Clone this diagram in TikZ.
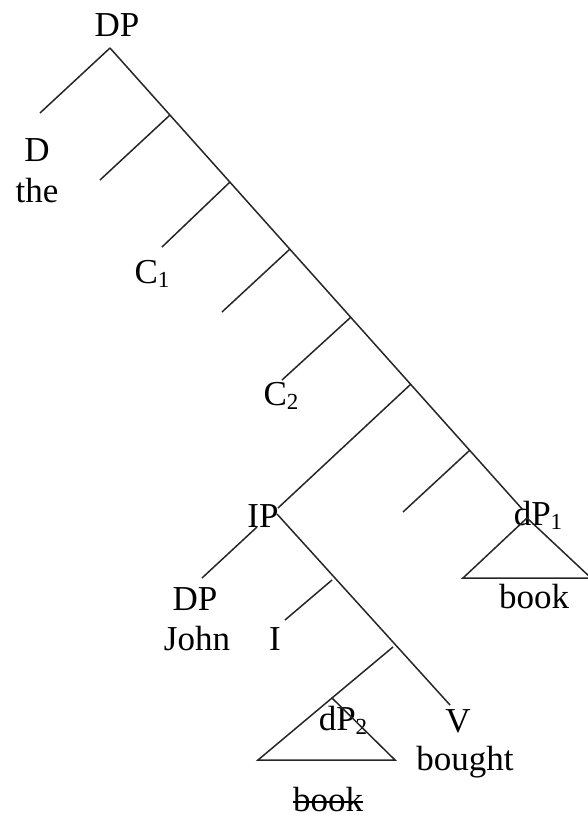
\documentclass[tikz,border=0pt]{standalone}
\usepackage{fontspec}
\setmainfont{Liberation Serif}
\newcommand{\mysub}[1]{\raisebox{-0.3ex}{\fontsize{23}{26}\selectfont #1}}
\begin{document}
\begin{tikzpicture}[x=1pt,y=-1pt,
  lbl/.style={inner sep=0pt,anchor=base,font=\fontsize{35}{40}\selectfont},
  edge/.style={line width=1.5pt,draw=black!85}]
\useasboundingbox (0,0) rectangle (587,818);
% labels
\node[lbl] (dptop) at (117,37) {DP};
\node[lbl] (d) at (37,162) {D};
\node[lbl] (the) at (37,203) {the};
\node[lbl] (c1) at (152,283) {C\mysub{1}};
\node[lbl] (c2) at (281,405) {C\mysub{2}};
\node[lbl] (ip) at (263,527) {IP};
\node[lbl] (dpj) at (195,610) {DP};
\node[lbl] (john) at (197,650) {John};
\node[lbl] (i) at (275,650) {I};
\node[lbl] (dp2) at (343,730) {dP\mysub{2}};
\node[lbl] (v) at (458,732) {V};
\node[lbl] (bought) at (465,770) {bought};
\node[lbl] (bk2) at (328,811) {book};
\node[lbl] (dp1) at (538,525) {dP\mysub{1}};
\node[lbl] (bk1) at (534,608) {book};
\draw[line width=1.5pt] ([yshift=9pt]bk2.base west) -- ([yshift=9pt]bk2.base east);
% tree points
\coordinate (r) at (110,48);
\coordinate (dl) at (40,113);
\coordinate (s1) at (170,115);
\coordinate (s2) at (230,182);
\coordinate (s3) at (290,249);
\coordinate (s4) at (351,317);
\coordinate (s5) at (411,384);
\coordinate (s6) at (470,450);
\coordinate (se) at (523,510);
\coordinate (b1) at (100,180);
\coordinate (b2) at (162,247);
\coordinate (b3) at (222,312);
\coordinate (b4) at (282,380);
\coordinate (ipt) at (278,508);
\coordinate (b6) at (403,512);
\coordinate (ipr) at (277,514);
\coordinate (ipl) at (257,527);
\coordinate (dpt) at (202,578);
\coordinate (n1) at (332,580);
\coordinate (it) at (285,620);
\coordinate (n2) at (393,647);
\coordinate (vt) at (450,705);
\coordinate (t2a) at (332,698);
\coordinate (t2l) at (258,760);
\coordinate (t2r) at (395,760);
\coordinate (t1a) at (527,518);
\coordinate (t1l) at (463,578);
\coordinate (t1r) at (591,578);
% edges
\draw[edge] (r) -- (dl);
\draw[edge] (r) -- (se);
\draw[edge] (s1) -- (b1);
\draw[edge] (s2) -- (b2);
\draw[edge] (s3) -- (b3);
\draw[edge] (s4) -- (b4);
\draw[edge] (s5) -- (ipt);
\draw[edge] (s6) -- (b6);
\draw[edge] (ipl) -- (dpt);
\draw[edge] (ipr) -- (vt);
\draw[edge] (n1) -- (it);
\draw[edge] (n2) -- (t2a);
\draw[edge] (t2l) -- (t2a) -- (t2r) -- cycle;
\draw[edge] (t1l) -- (t1a) -- (t1r) -- cycle;
\end{tikzpicture}
\end{document}
